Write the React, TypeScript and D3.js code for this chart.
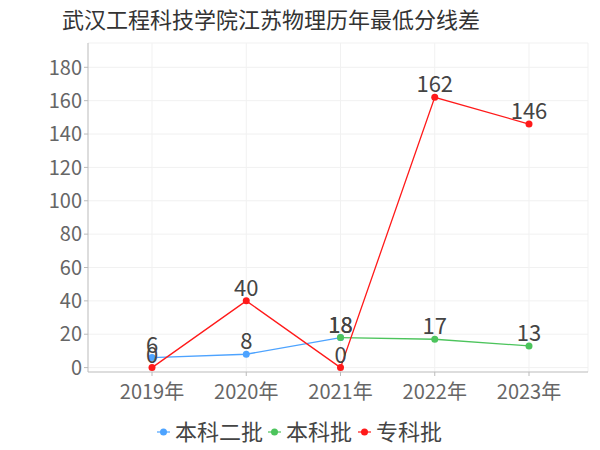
import * as d3 from "d3";

const years = ["2019年", "2020年", "2021年", "2022年", "2023年"];
const yTicks = [0, 20, 40, 60, 80, 100, 120, 140, 160, 180];

const seriesNames = ["本科二批", "本科批", "专科批"];
const seriesColors = ["#4da3ff", "#4cc45c", "#ff1a1a"];
// null = no value for that year
const erpiValues = [6, 8, 18, null, null];
const benkeValues = [null, null, 18, 17, 13];
const zhuankeValues = [0, 40, 0, 162, 146];

const W = 600;
const H = 450;
const font = "'Noto Sans CJK SC', 'Noto Sans', sans-serif";
const plot = { left: 88, right: 588, top: 43, bottom: 372 };

const App = () => {
  const x = d3.scalePoint<string>().domain(years).range([152, 529]);
  const y = d3.scaleLinear().domain([0, 180]).range([367.6, 67.3]);

  const series = [erpiValues, benkeValues, zhuankeValues].map((vals, i) => ({
    name: seriesNames[i],
    color: seriesColors[i],
    points: vals
      .map((v, j) => ({ year: years[j], v }))
      .filter((d) => d.v !== null) as { year: string; v: number }[],
  }));

  const lineGen = d3
    .line<{ year: string; v: number }>()
    .x((d) => x(d.year)!)
    .y((d) => y(d.v));

  const legendX = [157, 268, 358];

  return (
    <svg
      width={W}
      height={H}
      style={{ position: "absolute", left: 0, top: 0, fontFamily: font }}
    >
      <rect width={W} height={H} fill="#fff" />
      <text x={62} y={28} fontSize={22} fill="#333">
        武汉工程科技学院江苏物理历年最低分线差
      </text>

      {/* grid */}
      {yTicks.map((t) => (
        <line
          key={t}
          x1={plot.left}
          x2={plot.right}
          y1={y(t)}
          y2={y(t)}
          stroke="#f1f1f1"
        />
      ))}
      {years.map((yr) => (
        <line
          key={yr}
          x1={x(yr)}
          x2={x(yr)}
          y1={plot.top}
          y2={plot.bottom}
          stroke="#f1f1f1"
        />
      ))}
      <line x1={plot.left} x2={plot.right} y1={plot.top} y2={plot.top} stroke="#f1f1f1" />
      <line x1={plot.right} x2={plot.right} y1={plot.top} y2={plot.bottom} stroke="#f1f1f1" />

      {/* axes */}
      <line x1={plot.left} x2={plot.left} y1={plot.top} y2={plot.bottom} stroke="#bbb" />
      <line x1={plot.left} x2={plot.right} y1={plot.bottom} y2={plot.bottom} stroke="#bbb" />
      {yTicks.map((t) => (
        <g key={t}>
          <line x1={plot.left - 4} x2={plot.left} y1={y(t)} y2={y(t)} stroke="#bbb" />
          <text
            x={82}
            y={y(t)}
            dy="0.36em"
            textAnchor="end"
            fontSize={20}
            fill="#666"
          >
            {t}
          </text>
        </g>
      ))}
      {years.map((yr) => (
        <g key={yr}>
          <line x1={x(yr)} x2={x(yr)} y1={plot.bottom} y2={plot.bottom + 4} stroke="#bbb" />
          <text x={x(yr)} y={399} textAnchor="middle" fontSize={20} fill="#666">
            {yr}
          </text>
        </g>
      ))}

      {/* lines */}
      {series.map((s) => (
        <g key={s.name}>
          <path d={lineGen(s.points)!} fill="none" stroke={s.color} strokeWidth={1.3} />
          {s.points.map((d) => (
            <circle key={d.year} cx={x(d.year)} cy={y(d.v)} r={3.5} fill={s.color} />
          ))}
        </g>
      ))}
      {series.map((s) =>
        s.points.map((d) => (
          <text
            key={s.name + d.year}
            x={x(d.year)}
            y={y(d.v) - 5}
            textAnchor="middle"
            fontSize={22}
            fill="#444"
          >
            {d.v}
          </text>
        ))
      )}

      {/* legend */}
      {series.map((s, i) => (
        <g key={s.name} transform={`translate(${legendX[i]},432)`}>
          <line x1={0} x2={13} y1={0} y2={0} stroke={s.color} strokeOpacity={0.6} strokeWidth={2} />
          <circle cx={6.5} cy={0} r={3.5} fill={s.color} />
          <text x={18} y={0} dy="0.36em" fontSize={22} fill="#444">
            {s.name}
          </text>
        </g>
      ))}
    </svg>
  );
};

export default App;
